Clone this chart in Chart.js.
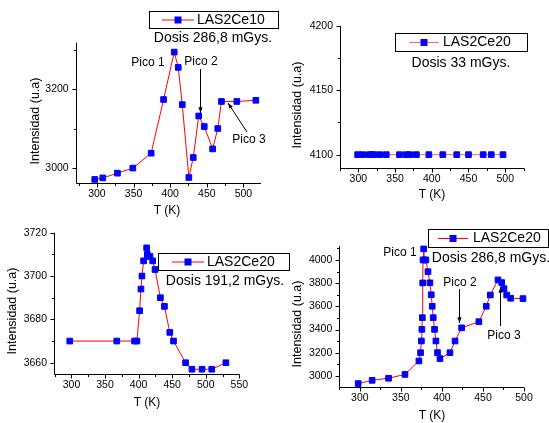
<!DOCTYPE html>
<html>
<head>
<meta charset="utf-8">
<script src="https://cdn.jsdelivr.net/npm/chart.js@4.4.1/dist/chart.umd.min.js"></script>
<style>
html, body { margin: 0; padding: 0; background: #fff; }
#wrap { position: relative; width: 549px; height: 423px; overflow: hidden; background: #fff; }
#wrap canvas { position: absolute; left: 0; top: 0; }
</style>
</head>
<body>
<div id="wrap">
  <canvas id="c1" width="549" height="423"></canvas>
  <canvas id="c2" width="549" height="423"></canvas>
  <canvas id="c3" width="549" height="423"></canvas>
  <canvas id="c4" width="549" height="423"></canvas>
</div>
<script>
// Panel 1: LAS2Ce10, dosis 286,8 mGys
const t1 = [297, 308, 328, 349, 374, 391, 405.5, 411, 416.5, 425.5, 431.5, 439, 446.5, 458, 465, 470, 491, 517];
const v1 = [2970, 2974, 2986, 2999, 3037, 3174, 3295, 3256, 3161, 2975, 3026, 3132, 3105, 3048, 3100, 3169, 3169, 3172];

// Panel 2: LAS2Ce20, dosis 33 mGys
const t2 = [299, 306, 315, 318, 321, 329, 338, 356, 365, 370, 379, 396, 415, 434, 450, 470, 481, 497];
const v2 = [4100, 4100, 4100, 4100, 4100, 4100, 4100, 4100, 4100, 4100, 4100, 4100, 4100, 4100, 4100, 4100, 4100, 4100];

// Panel 3: LAS2Ce20, dosis 191,2 mGys
const t3 = [297.5, 367.5, 394, 397.5, 401.5, 403.5, 405, 407.5, 412, 413, 417, 421, 424.5, 432.5, 438.5, 446.5, 452, 470, 479.5, 494.5, 509, 530];
const v3 = [3670, 3670, 3670, 3670, 3684, 3694, 3700, 3707, 3713, 3710, 3709, 3707, 3703, 3690, 3686, 3674, 3670, 3660, 3657, 3657, 3657, 3660];

// Panel 4: LAS2Ce20, dosis 286,8 mGys
const t4 = [298, 315, 335, 355, 372, 374, 375, 375.6, 376.2, 376.6, 377, 377.8, 378.5, 380.5, 383, 385.4, 387, 388.2, 389.4, 391, 392.7, 394.6, 397.6, 409.8, 416, 424, 445, 454, 459, 468.3, 472.8, 475.6, 478.9, 483.8, 498.8];
const v4 = [2935, 2963, 2981, 3014, 3130, 3201, 3302, 3402, 3503, 3802, 4000, 4095, 4000, 4000, 3899, 3803, 3700, 3601, 3503, 3402, 3302, 3202, 3150, 3201, 3302, 3415, 3468, 3601, 3698, 3828, 3805, 3753, 3698, 3670, 3667];

const FONT = "'Liberation Sans', Arial, sans-serif";
Chart.defaults.font.family = FONT;
Chart.defaults.color = '#000';

// drawing helpers (page coords, every canvas covers the whole page)
function text(ctx, s, x, y, size, align) {
    ctx.font = size + 'px ' + FONT;
    ctx.fillStyle = '#000';
    ctx.textAlign = align || 'center';
    ctx.textBaseline = 'middle';
    ctx.fillText(s, x, y);
}

function vtext(ctx, s, x, y, size) {
    ctx.save();
    ctx.translate(x, y);
    ctx.rotate(-Math.PI / 2);
    text(ctx, s, 0, 0, size);
    ctx.restore();
}

function arrow(ctx, x1, y1, x2, y2) {
    const ang = Math.atan2(y2 - y1, x2 - x1);
    ctx.strokeStyle = '#000';
    ctx.fillStyle = '#000';
    ctx.lineWidth = 1;
    ctx.beginPath();
    ctx.moveTo(x1, y1);
    ctx.lineTo(x2, y2);
    ctx.stroke();
    ctx.beginPath();
    ctx.moveTo(x2, y2);
    ctx.lineTo(x2 - 6 * Math.cos(ang - 0.35), y2 - 6 * Math.sin(ang - 0.35));
    ctx.lineTo(x2 - 6 * Math.cos(ang + 0.35), y2 - 6 * Math.sin(ang + 0.35));
    ctx.closePath();
    ctx.fill();
}

function legendBox(ctx, box, lineColor, label) {
    const [x, y, w, h, l1, l2, tx] = box;
    ctx.fillStyle = '#fff';
    ctx.fillRect(x, y, w, h);
    ctx.strokeStyle = '#000';
    ctx.lineWidth = 1;
    ctx.strokeRect(Math.round(x) + 0.5, Math.round(y) + 0.5, w, h);
    const cy = y + h / 2 + 0.5;
    ctx.strokeStyle = lineColor;
    ctx.beginPath();
    ctx.moveTo(l1, cy);
    ctx.lineTo(l2, cy);
    ctx.stroke();
    ctx.fillStyle = '#0000ff';
    const cx = (l1 + l2) / 2;
    ctx.fillRect(cx - 3.5, cy - 3.5, 7, 7);
    text(ctx, label, tx, cy, 14, 'left');
}

function makePanel(id, p) {
    const W = 549, H = 423, YW = 40, XH = 20;
    const a = p.area;
    const decor = {
        id: 'decor_' + id,
        afterDraw(chart) {
            const ctx = chart.ctx;
            const ca = chart.chartArea;
            const xs = chart.scales.x, ys = chart.scales.y;
            ctx.save();
            ctx.strokeStyle = '#000';
            ctx.lineWidth = 1;
            const L = Math.round(ca.left) + 0.5, B = Math.round(ca.bottom) + 0.5;
            ctx.beginPath();
            ctx.moveTo(L, ca.top);
            ctx.lineTo(L, B);
            ctx.lineTo(ca.right, B);
            ctx.stroke();
            ctx.beginPath();
            xs.ticks.forEach(t => {
                const px = Math.round(xs.getPixelForValue(t.value)) + 0.5;
                const len = Math.abs(t.value % p.xMajor) < 1e-6 ? 4 : 2.5;
                ctx.moveTo(px, B);
                ctx.lineTo(px, B + len);
            });
            ys.ticks.forEach(t => {
                const py = Math.round(ys.getPixelForValue(t.value)) + 0.5;
                const len = Math.abs(t.value % p.yMajor) < 1e-6 ? 4 : 2.5;
                ctx.moveTo(L, py);
                ctx.lineTo(L - len, py);
            });
            ctx.stroke();
            p.draw(ctx);
            ctx.restore();
        }
    };
    new Chart(document.getElementById(id), {
        type: 'line',
        data: {
            datasets: [{
                data: p.t.map((x, i) => ({ x: x, y: p.v[i] })),
                borderColor: p.lineColor,
                borderWidth: 1,
                pointStyle: 'rect',
                pointRadius: 4,
                pointBackgroundColor: '#0000ff',
                pointBorderColor: '#0000ff',
                pointBorderWidth: 1,
                tension: 0,
                clip: false
            }]
        },
        options: {
            responsive: false,
            animation: false,
            events: [],
            layout: { padding: { left: a.l - YW, top: a.t, right: W - a.r, bottom: H - a.b - XH } },
            plugins: { legend: { display: false }, tooltip: { enabled: false } },
            scales: {
                x: {
                    type: 'linear',
                    min: p.xMin, max: p.xMax,
                    afterFit: s => { s.height = XH; },
                    grid: { drawOnChartArea: false, color: 'rgba(0,0,0,0)', tickLength: 4 },
                    border: { display: false },
                    ticks: {
                        stepSize: p.xMajor / 2, includeBounds: false, autoSkip: false, maxRotation: 0,
                        padding: 1, color: '#000', font: { size: 10.5 },
                        callback: v => Math.abs(v % p.xMajor) < 1e-6 ? String(v) : ''
                    }
                },
                y: {
                    type: 'linear',
                    min: p.yMin, max: p.yMax,
                    afterFit: s => { s.width = YW; },
                    grid: { drawOnChartArea: false, color: 'rgba(0,0,0,0)', tickLength: 4 },
                    border: { display: false },
                    ticks: {
                        stepSize: p.yMinor, includeBounds: false, autoSkip: false,
                        padding: 3, color: '#000', font: { size: 10.5 },
                        callback: v => Math.abs(v % p.yMajor) < 1e-6 ? String(v) : ''
                    }
                }
            }
        },
        plugins: [decor]
    });
}

makePanel('c1', {
    t: t1, v: v1, lineColor: '#ff0000',
    area: { l: 75.7, r: 261, t: 42.7, b: 182.7 },
    xMin: 271, xMax: 524, xMajor: 50,
    yMin: 2961.7, yMax: 3319, yMajor: 200, yMinor: 100,
    draw(ctx) {
        legendBox(ctx, [149, 11, 129, 17, 162, 194, 197], '#ff0000', 'LAS2Ce10');
        text(ctx, 'Dosis 286,8 mGys.', 213, 38, 14);
        text(ctx, 'Pico 1', 148, 63, 12);
        text(ctx, 'Pico 2', 201, 62, 12);
        text(ctx, 'Pico 3', 249, 140, 12);
        arrow(ctx, 200.5, 69, 200.5, 113);
        arrow(ctx, 247, 132, 228, 103);
        vtext(ctx, 'Intensidad (u.a)', 35.5, 121, 12.5);
        text(ctx, 'T (K)', 167, 211, 12);
    }
});

makePanel('c2', {
    t: t2, v: v2, lineColor: '#ff6060',
    area: { l: 340, r: 524.3, t: 26, b: 167.5 },
    xMin: 275, xMax: 526, xMajor: 50,
    yMin: 4090, yMax: 4200, yMajor: 50, yMinor: 25,
    draw(ctx) {
        legendBox(ctx, [395, 33, 132, 18, 409, 439, 443], '#ff6060', 'LAS2Ce20');
        text(ctx, 'Dosis 33 mGys.', 461, 63, 14);
        vtext(ctx, 'Intensidad (u.a)', 298, 105, 12.5);
        text(ctx, 'T (K)', 432, 195, 12);
    }
});

makePanel('c3', {
    t: t3, v: v3, lineColor: '#ff0000',
    area: { l: 54, r: 239.3, t: 232.7, b: 374 },
    xMin: 274, xMax: 550, xMajor: 50,
    yMin: 3654.8, yMax: 3720, yMajor: 20, yMinor: 10,
    draw(ctx) {
        legendBox(ctx, [158, 253, 131, 17, 172, 204, 207], '#ff0000', 'LAS2Ce20');
        text(ctx, 'Dosis 191,2 mGys.', 225, 281, 14);
        vtext(ctx, 'Intensidad (u.a)', 13, 311, 12.5);
        text(ctx, 'T (K)', 147, 403, 12);
    }
});

makePanel('c4', {
    t: t4, v: v4, lineColor: '#ff0000',
    area: { l: 339.3, r: 524, t: 246, b: 387.3 },
    xMin: 275, xMax: 500, xMajor: 50,
    yMin: 2903, yMax: 4120, yMajor: 200, yMinor: 100,
    draw(ctx) {
        legendBox(ctx, [428, 229, 120, 18, 438, 468, 473], '#ff0000', 'LAS2Ce20');
        text(ctx, 'Dosis 286,8 mGys.', 491, 258, 14);
        text(ctx, 'Pico 1', 400, 253, 12);
        text(ctx, 'Pico 2', 460, 283, 12);
        text(ctx, 'Pico 3', 504, 336, 12);
        arrow(ctx, 459.5, 289, 459.5, 323);
        arrow(ctx, 500.5, 326, 500.5, 287);
        vtext(ctx, 'Intensidad (u.a)', 298, 324, 12.5);
        text(ctx, 'T (K)', 432, 416, 12);
    }
});
</script>
</body>
</html>
